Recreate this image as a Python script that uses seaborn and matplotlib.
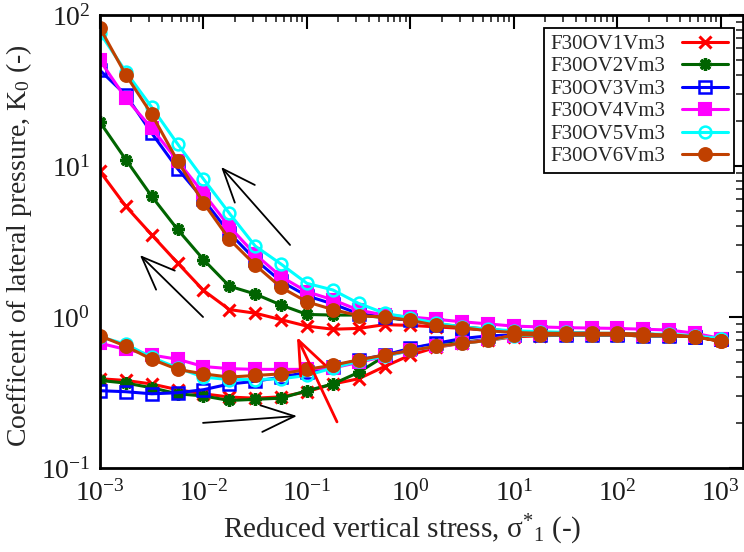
import matplotlib
matplotlib.use("Agg")
import matplotlib.pyplot as plt
import numpy as np
import pandas as pd
import seaborn as sns
from matplotlib.ticker import FixedLocator, LogLocator, NullFormatter

# ---------------- data ----------------
x_stress = [0.001, 0.00178, 0.00316, 0.00562, 0.01, 0.0178, 0.0316, 0.0562,
            0.1, 0.178, 0.316, 0.562, 1, 1.78, 3.16, 5.62, 10, 17.8, 31.6,
            56.2, 100, 178, 316, 562, 1000]

names = ["F30OV1Vm3", "F30OV2Vm3", "F30OV3Vm3", "F30OV4Vm3", "F30OV5Vm3", "F30OV6Vm3"]

x_ticks = [1e-3, 1e-2, 1e-1, 1e0, 1e1, 1e2, 1e3]
y_ticks = [1e-1, 1e0, 1e1, 1e2]

# loading branch (increasing stress)
load_v1 = [0.39, 0.38, 0.36, 0.33, 0.31, 0.295, 0.29, 0.296, 0.32, 0.36, 0.39, 0.47, 0.56,
           0.63, 0.67, 0.70, 0.74, 0.75, 0.76, 0.76, 0.76, 0.75, 0.75, 0.74, 0.70]
load_v2 = [0.38, 0.365, 0.34, 0.31, 0.30, 0.28, 0.285, 0.29, 0.325, 0.36, 0.43, 0.55, 0.62,
           0.66, 0.68, 0.71, 0.75, 0.76, 0.76, 0.76, 0.76, 0.75, 0.75, 0.74, 0.71]
load_v3 = [0.325, 0.32, 0.31, 0.315, 0.33, 0.36, 0.375, 0.40, 0.43, 0.47, 0.52, 0.56, 0.62,
           0.67, 0.72, 0.75, 0.76, 0.76, 0.76, 0.76, 0.76, 0.75, 0.75, 0.74, 0.72]
load_v4 = [0.67, 0.61, 0.56, 0.525, 0.47, 0.455, 0.45, 0.45, 0.45, 0.46, 0.50, 0.55, 0.60,
           0.64, 0.67, 0.71, 0.75, 0.77, 0.77, 0.77, 0.77, 0.76, 0.76, 0.75, 0.72]
load_v5 = [0.74, 0.66, 0.54, 0.46, 0.40, 0.385, 0.385, 0.39, 0.41, 0.46, 0.51, 0.55, 0.60,
           0.64, 0.67, 0.70, 0.75, 0.76, 0.76, 0.76, 0.76, 0.75, 0.75, 0.74, 0.71]
load_v6 = [0.75, 0.64, 0.525, 0.45, 0.42, 0.40, 0.41, 0.42, 0.45, 0.48, 0.52, 0.56, 0.60,
           0.64, 0.67, 0.70, 0.76, 0.76, 0.76, 0.76, 0.76, 0.75, 0.75, 0.74, 0.69]

# unloading branch (listed with increasing stress, drawn from high to low)
unload_v1 = [9.2, 5.4, 3.5, 2.28, 1.5, 1.12, 1.06, 0.96, 0.87, 0.83, 0.84, 0.89, 0.88,
             0.86, 0.84, 0.82, 0.80, 0.79, 0.78, 0.78, 0.77, 0.77, 0.76, 0.74, 0.70]
unload_v2 = [19.5, 11.0, 6.3, 3.8, 2.4, 1.6, 1.42, 1.2, 1.04, 1.03, 1.03, 0.99, 0.95,
             0.90, 0.86, 0.83, 0.80, 0.79, 0.78, 0.78, 0.77, 0.77, 0.76, 0.74, 0.71]
unload_v3 = [43, 29.5, 16.5, 9.6, 6.0, 3.6, 2.4, 1.72, 1.38, 1.22, 1.05, 1.0, 0.95,
             0.89, 0.85, 0.82, 0.80, 0.79, 0.78, 0.78, 0.77, 0.77, 0.76, 0.74, 0.72]
unload_v4 = [50, 28, 17.8, 10.8, 6.6, 3.96, 2.6, 1.85, 1.47, 1.30, 1.11, 1.03, 1.0,
             0.965, 0.93, 0.90, 0.87, 0.86, 0.85, 0.845, 0.84, 0.83, 0.82, 0.78, 0.72]
unload_v5 = [76, 42, 24.5, 14, 8.2, 4.86, 2.95, 2.24, 1.67, 1.51, 1.23, 1.06, 0.985,
             0.91, 0.86, 0.83, 0.81, 0.80, 0.79, 0.78, 0.78, 0.77, 0.77, 0.75, 0.72]
unload_v6 = [82, 40, 22, 10.8, 5.7, 3.27, 2.21, 1.57, 1.26, 1.12, 1.02, 1.0, 0.95,
             0.88, 0.85, 0.81, 0.79, 0.78, 0.78, 0.78, 0.78, 0.77, 0.76, 0.74, 0.69]

loads = [load_v1, load_v2, load_v3, load_v4, load_v5, load_v6]
unloads = [unload_v1, unload_v2, unload_v3, unload_v4, unload_v5, unload_v6]

# ---------------- style ----------------
colors = ["#ff0000", "#006400", "#0000ff", "#ff00ff", "#00ffff", "#c04000"]
markers = ["x", (8, 2, 0), "s", "s", "o", "o"]
mfaces = ["none", "#006400", "none", "#ff00ff", "none", "#c04000"]
msizes = [9, 9, 8, 9, 8.5, 9.5]
mews = [2.2, 2.4, 1.8, 1.5, 1.8, 1.2]

sns.set_theme(style="white")
plt.rcParams["font.family"] = ["Liberation Serif", "DejaVu Serif"]
plt.rcParams["mathtext.fontset"] = "custom"
plt.rcParams["mathtext.rm"] = "Liberation Serif"
plt.rcParams["mathtext.it"] = "Liberation Serif:italic"
plt.rcParams["mathtext.default"] = "regular"

fig = plt.figure(figsize=(7.44, 5.52), dpi=100)
ax = fig.add_axes([100 / 744, 1 - 468 / 552, (743 - 100) / 744, (468 - 15) / 552])

for i in range(6):
    df = pd.DataFrame({"x": x_stress + x_stress[::-1],
                       "y": loads[i] + unloads[i][::-1]})
    sns.lineplot(data=df, x="x", y="y", sort=False, estimator=None, ax=ax,
                 color=colors[i], lw=2.2, marker=markers[i], markersize=msizes[i],
                 mfc=mfaces[i], mec=colors[i], mew=mews[i], label=names[i])

ax.set_xscale("log")
ax.set_yscale("log")
ax.set_xlim(1e-3, 10 ** 3.213)
ax.set_ylim(0.1, 100)

ax.xaxis.set_major_locator(FixedLocator(x_ticks))
ax.xaxis.set_minor_locator(LogLocator(base=10, subs=np.arange(2, 10), numticks=100))
ax.xaxis.set_minor_formatter(NullFormatter())
ax.yaxis.set_major_locator(FixedLocator(y_ticks))
ax.yaxis.set_minor_locator(LogLocator(base=10, subs=np.arange(2, 10), numticks=100))
ax.yaxis.set_minor_formatter(NullFormatter())

ax.tick_params(which="major", direction="in", length=10, width=1.5, labelsize=20,
               top=True, right=True, colors="black")
ax.tick_params(axis="x", which="major", pad=9)
ax.tick_params(axis="y", which="major", pad=7)
ax.tick_params(which="minor", direction="in", length=5, width=1.2,
               top=True, right=True)
ax.tick_params(axis="both", labelcolor="#1a1a1a")
for s in ax.spines.values():
    s.set_linewidth(2)
    s.set_color("black")

ax.set_xlabel("Reduced vertical stress, σ$^{*}{}_{1}$ (-)", fontsize=21, labelpad=4)
ax.set_ylabel("Coefficent of lateral pressure, K$_{0}$ (-)", fontsize=20, labelpad=5)
ax.xaxis.label.set_x(0.47)
ax.yaxis.label.set_y(0.49)

# arrows
arrow_style = "->,head_length=1.0,head_width=0.4"
black_arrow = dict(arrowstyle=arrow_style, color="black", lw=1.3,
                   shrinkA=0, shrinkB=0, mutation_scale=24)
ax.annotate("", xy=(0.0148, 9.85), xytext=(0.0686, 3.0), arrowprops=black_arrow)
ax.annotate("", xy=(0.00243, 2.57), xytext=(0.0099, 1.0), arrowprops=black_arrow)
ax.annotate("", xy=(0.08, 0.221), xytext=(0.0099, 0.199), arrowprops=black_arrow)
ax.annotate("", xy=(0.08, 0.737), xytext=(0.195, 0.202),
            arrowprops=dict(arrowstyle=arrow_style, color="red", lw=2.0,
                            shrinkA=0, shrinkB=0, mutation_scale=24))

leg = ax.legend(loc="upper right", bbox_to_anchor=(0.986, 0.971), fontsize=15,
                markerfirst=False, handlelength=2.2, labelspacing=0.14,
                borderaxespad=0, borderpad=0.3, handletextpad=0.8,
                fancybox=False, frameon=True)
leg.get_frame().set_edgecolor("black")
leg.get_frame().set_linewidth(1.3)
leg.get_frame().set_alpha(1)

fig.savefig("out.png", dpi=100)
